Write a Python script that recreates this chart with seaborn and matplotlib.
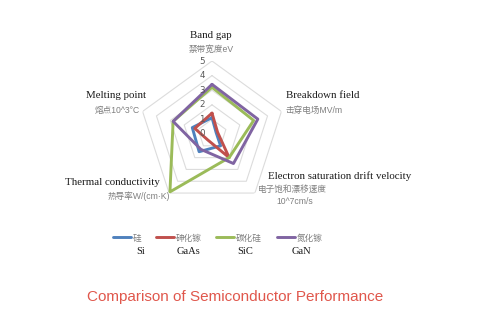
import numpy as np
import pandas as pd
import matplotlib
matplotlib.use("Agg")
import matplotlib.pyplot as plt
import matplotlib.transforms as mtransforms
import seaborn as sns

# ---- data ----
axes_en = ["Band gap", "Breakdown field", "Electron saturation drift velocity",
           "Thermal conductivity", "Melting point"]
axes_cn = ["禁带宽度eV", "击穿电场MV/m", "电子饱和漂移速度\n10^7cm/s",
           "热导率W/(cm·K)", "熔点10^3°C"]
materials_cn = ["硅", "砷化镓", "碳化硅", "氮化镓"]
materials_en = ["Si", "GaAs", "SiC", "GaN"]
si_vals   = [1.12, 0.3, 1.0, 1.5, 1.42]
gaas_vals = [1.43, 0.4, 2.0, 0.5, 1.24]
sic_vals  = [3.2, 3.0, 2.0, 4.9, 2.8]
gan_vals  = [3.4, 3.3, 2.5, 1.3, 2.8]
r_ticks = [0, 1, 2, 3, 4, 5]
title = "Comparison of Semiconductor Performance"

colors = ["#4F81BD", "#C0504D", "#9BBB59", "#8064A2"]

sns.set_theme(style="white")
plt.rcParams['font.family'] = ['Noto Sans CJK SC', 'DejaVu Sans']

W, H = 483, 328
fig = plt.figure(figsize=(W / 100, H / 100), dpi=100)
cx, cy, R = 212, 134, 73
ax = fig.add_axes([(cx - R) / W, 1 - (cy + R) / H, 2 * R / W, 2 * R / H], projection="polar")
ax.set_theta_offset(np.pi / 2)
ax.set_theta_direction(-1)

n = len(axes_en)
theta = np.linspace(0, 2 * np.pi, n, endpoint=False)
theta_c = np.concatenate([theta, theta[:1]])

rows = []
for mat, vals in zip(materials_cn, [si_vals, gaas_vals, sic_vals, gan_vals]):
    v = list(vals) + [vals[0]]
    for i, (t, r) in enumerate(zip(theta_c, v)):
        rows.append({"material": mat, "theta": t, "r": r, "order": i})
df = pd.DataFrame(rows)

# pentagon grid
for rt in r_ticks[1:]:
    ax.plot(theta_c, [rt] * len(theta_c), color="#dcdcdc", lw=0.8, zorder=1)

sns.lineplot(data=df, x="theta", y="r", hue="material", palette=colors,
             sort=False, estimator=None, units="material", lw=2.1, ax=ax,
             legend=False, zorder=3)

ax.set_ylim(0, 5)
ax.grid(False)
ax.spines["polar"].set_visible(False)
ax.set_xticks([])
ax.set_yticks([])
ax.set_xlabel("")
ax.set_ylabel("")
ax.patch.set_alpha(0)

# radial tick labels
off = mtransforms.offset_copy(ax.transData, fig=fig, x=-10, y=0, units="dots")
for rt in r_ticks:
    ax.text(0, rt, str(rt), transform=off, ha="center", va="center",
            fontsize=6.3, color="#595959", family=["DejaVu Sans"])

# axis labels
def ptxt(x, y, s, **kw):
    fig.text(x / W, 1 - y / H, s, **kw)

serif = dict(family=["Liberation Serif"], fontsize=7.8, color="#1a1a1a")
cjk = dict(family=["Liberation Sans", "Noto Sans CJK SC"], fontsize=6.2, color="#7f7f7f")

ptxt(211, 36, axes_en[0], ha="center", va="center", **serif)
ptxt(211, 49, axes_cn[0], ha="center", va="center", **cjk)
ptxt(286, 96, axes_en[1], ha="left", va="center", **serif)
ptxt(286, 110, axes_cn[1], ha="left", va="center", **cjk)
ptxt(268, 176, axes_en[2], ha="left", va="center", **serif)
ptxt(258, 189, axes_cn[2].split("\n")[0], ha="left", va="center", **cjk)
ptxt(276, 202, axes_cn[2].split("\n")[1], ha="left", va="center", **cjk)
ptxt(146, 96, axes_en[4], ha="right", va="center", **serif)
ptxt(140, 110, axes_cn[4], ha="right", va="center", **cjk)
ptxt(160, 182, axes_en[3], ha="right", va="center", **serif)
ptxt(170, 196, axes_cn[3], ha="right", va="center", **cjk)

# legend
handles = ax.get_lines()[len(r_ticks) - 1:len(r_ticks) - 1 + len(materials_cn)]
leg = fig.legend(handles, materials_cn, loc="center left",
                 bbox_to_anchor=(113 / W, 1 - 238 / H), ncol=4, frameon=False,
                 handlelength=2.1, handletextpad=0.2, columnspacing=1.7,
                 borderpad=0, borderaxespad=0,
                 prop={"family": "Noto Sans CJK SC", "size": 6.2})
for t in leg.get_texts():
    t.set_color("#7f7f7f")

en_x = [136, 177, 237, 292]
for x, s in zip(en_x, materials_en):
    ptxt(x, 251, s, ha="left", va="center", family=["Liberation Serif"],
         fontsize=7.6, color="#1a1a1a")

ptxt(235, 297, title, ha="center", va="center", family=["Liberation Sans"],
     fontsize=11, color="#E0574C")

fig.savefig("out.png", dpi=100)
